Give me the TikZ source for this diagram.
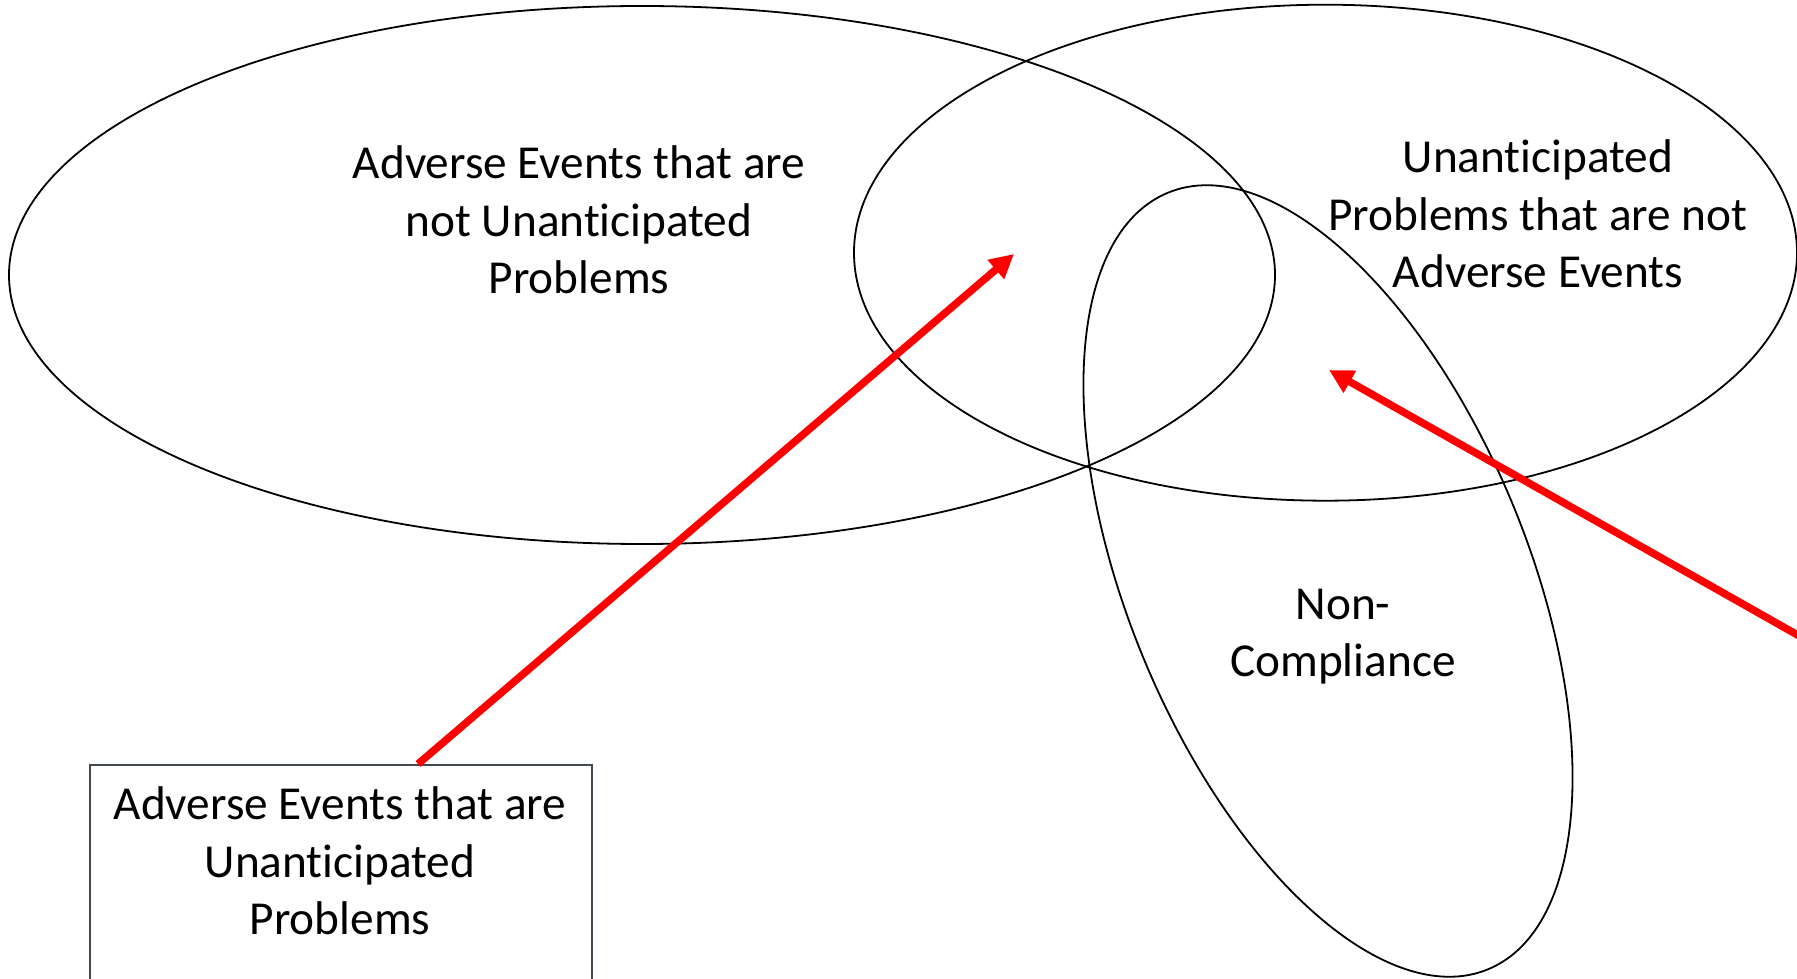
\documentclass[tikz,border=0pt]{standalone}
\usepackage{fontspec}
\setmainfont[Ligatures=NoCommon]{Carlito}
\usetikzlibrary{arrows.meta}
\definecolor{boxgray}{RGB}{64,74,80}
\begin{document}
\begin{tikzpicture}[x=1pt,y=1pt,
  venn/.style={draw=black, line width=1.8pt},
  lbl/.style={align=center, font=\fontsize{47.3}{57.3}\selectfont, inner sep=0pt},
  redarrow/.style={draw=red, line width=7.5pt, -{Triangle[length=24pt,width=24pt]}},
  framebox/.style={draw=boxgray, line width=1.6pt, minimum width=502pt, minimum height=260pt, anchor=north west, inner sep=0pt}]
\clip (0,0) rectangle (1797,978);
\fill[white] (0,0) rectangle (1797,978);
% sets
\draw[venn] (642,703) ellipse [x radius=633pt, y radius=269pt];
\draw[venn] (1325.5,725.3) ellipse [x radius=471.5pt, y radius=248pt];
\draw[venn, rotate around={-67.6:(1328,397)}] (1328,397) ellipse [x radius=420pt, y radius=200pt];
% labels
\node[lbl] (aeNotUP) at (579,758) {Adverse Events that are\\not Unanticipated\\Problems};
\node[lbl] (upNotAE) at (1538,764) {Unanticipated\\Problems that are not\\Adverse Events};
\node[lbl] (noncomp) at (1343,341.5) {Non-\\Compliance};
% box
\node[framebox] (box) at (89,214) {};
\node[lbl] (boxtext) at (340,117) {Adverse Events that are\\Unanticipated\\Problems};
% arrows
\coordinate (t1) at (1014,724);
\coordinate (t2) at (1329,608);
\coordinate (s2) at (1840,319);
\draw[redarrow] ([xshift=329pt]box.north west) -- (t1);
\draw[redarrow] (s2) -- (t2);
\end{tikzpicture}
\end{document}
